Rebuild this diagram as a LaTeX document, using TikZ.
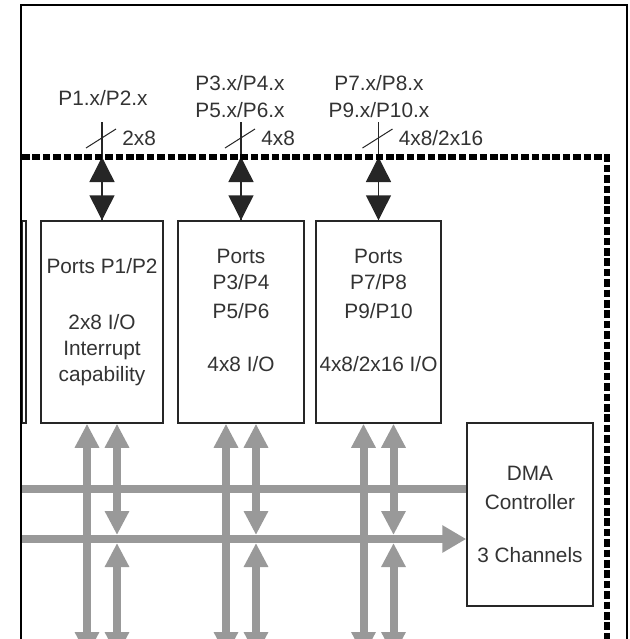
\documentclass[tikz,border=0pt]{standalone}
\usepackage{fontspec}
\setmainfont{Liberation Sans}
\usetikzlibrary{
  arrows.meta,
  positioning, calc
}
\tikzset{
  portbox/.style={rectangle,draw=black!85,line width=0.75pt,fill=white,
    minimum width=61pt,minimum height=101pt,inner sep=0pt},
  boxtext/.style={align=center,font=\fontsize{10.4}{13}\selectfont,text=black!80,inner sep=0pt},
  pinlbl/.style={align=center,font=\fontsize{10.4}{13.5}\selectfont,text=black!80,inner sep=0pt},
  pinline/.style={draw=black!85,line width=0.75pt},
  pinarr/.style={pinline,{Triangle[length=12.5pt,width=12.5pt]}-{Triangle[length=12.5pt,width=12.5pt]}},
  slash/.style={draw=black!85,line width=0.5pt},
  bus/.style={draw=black!40,line width=4pt,
    {Triangle[length=12pt,width=11.5pt]}-{Triangle[length=12pt,width=11.5pt]}},
  hbus/.style={draw=black!40,line width=4pt},
  border/.style={draw=black,line width=2.7pt,dash pattern=on 3.8pt off 1.4pt},
  frame/.style={draw=black,line width=1pt}
}

\begin{document}
\begin{tikzpicture}[x=0.5pt,y=-0.5pt]

  \useasboundingbox (0,0) rectangle (629,639);
  \clip (0,0) rectangle (629,639);

  % helper levels
  \coordinate (sigtop) at (0,122);
  \coordinate (dl) at (22,157);
  \coordinate (dc) at (607,157);
  \coordinate (hi) at (21,489);
  \coordinate (lo) at (21,539);
  \coordinate (bot) at (0,656);

  % Port blocks
  \node[portbox,minimum width=2pt] (stub) at (24,322) {};
  \node[portbox] (p12) at (102,322) {};
  \node[portbox,minimum width=63pt] (p36) at (241,322) {};
  \node[portbox,minimum width=62.5pt] (p710) at (378.5,322) {};
  \node[portbox,minimum width=63pt,minimum height=91.5pt] (dma) at (530,514.5) {};

  \node[boxtext] (p12t) at (p12) {Ports P1/P2\\[15pt]2x8 I/O\\Interrupt\\capability};
  \node[boxtext] (p36t) at (241,310) {Ports\\P3/P4\\[1.5pt]P5/P6\\[13.5pt]4x8 I/O};
  \node[boxtext] (p710t) at (378.5,310) {Ports\\P7/P8\\[1.5pt]P9/P10\\[13.5pt]4x8/2x16 I/O};
  \node[boxtext] (dmat) at (dma) {DMA\\[1.5pt]Controller\\[13.5pt]3 Channels};

  % Pin labels above the chip edge
  \node[pinlbl] (l12) at (103,98) {P1.x/P2.x};
  \node[pinlbl] (l36) at (240,96.5) {P3.x/P4.x\\P5.x/P6.x};
  \node[pinlbl] (l710) at (379,96.5) {P7.x/P8.x\\P9.x/P10.x};

  % Pin lines with bus width marks
  \foreach \b/\w in {p12/2x8,p36/4x8,p710/{4x8/2x16}}{
    \draw[pinline] (\b.north |- sigtop) -- (\b.north);
    \draw[pinarr] (\b.north |- dl) -- (\b.north);
    \draw[slash] ($(\b.north |- sigtop)+(-16,26)$) -- ++(30,-19);
    \node[pinlbl,anchor=west] (w\b) at ($(\b.north |- sigtop)+(20,16)$) {\w};
  }

  % Internal buses
  \draw[hbus] (hi) -- (hi -| dma.west);
  \draw[hbus,-{Triangle[length=12pt,width=13pt]}] (lo) -- (lo -| dma.west);
  \foreach \b in {p12,p36,p710}{
    \draw[bus] ($(\b.south)+(-15,0)$) -- ($(\b.south |- bot)+(-15,0)$);
    \draw[bus] ($(\b.south)+(15,0)$) -- ($(\b.south |- lo)+(15,-4)$);
    \draw[bus] ($(\b.south |- lo)+(15,4)$) -- ($(\b.south |- bot)+(15,0)$);
  }

  % Chip boundary
  \draw[border] (dl) -- (dc) -- (dc |- bot);

  % Outer frame
  \draw[frame] (21,645) -- (21,5) -- (627,5) -- (627,645);

\end{tikzpicture}
\end{document}
